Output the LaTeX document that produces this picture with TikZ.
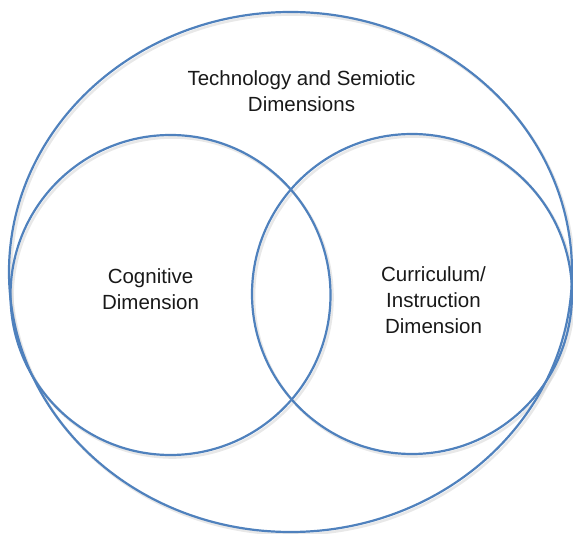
\documentclass[tikz,border=0pt]{standalone}
\usepackage{fontspec}
\setmainfont{Liberation Sans}
\begin{document}
\begin{tikzpicture}[x=1pt,y=-1pt,
  ring/.style={draw=ringblue,line width=2.2pt},
  halo/.style={draw=black!18,line width=2.6pt,opacity=0.5},
  lbl/.style={font=\fontsize{20.5}{26}\selectfont,align=center,text=black!90,inner sep=0pt}]
\definecolor{ringblue}{HTML}{4F81BD}
\useasboundingbox (0,0) rectangle (573,534);
% soft shadows under the rings
\draw[halo] (292.5,274.5) ellipse [x radius=281.5,y radius=260];
\draw[halo] (172.5,297.5) circle [radius=160];
\draw[halo] (414,296.5) circle [radius=160];
% rings
\draw[ring] (290.5,272) ellipse [x radius=281.5,y radius=260];
\draw[ring] (170.5,295) circle [radius=160];
\draw[ring] (412,294) circle [radius=160];
% labels
\node[lbl] (tech) at (301.5,91) {Technology and Semiotic\\Dimensions};
\node[lbl] (cog) at (150.5,289) {Cognitive\\Dimension};
\node[lbl] (cur) at (433.5,300) {Curriculum/\\Instruction\\Dimension};
\end{tikzpicture}
\end{document}
